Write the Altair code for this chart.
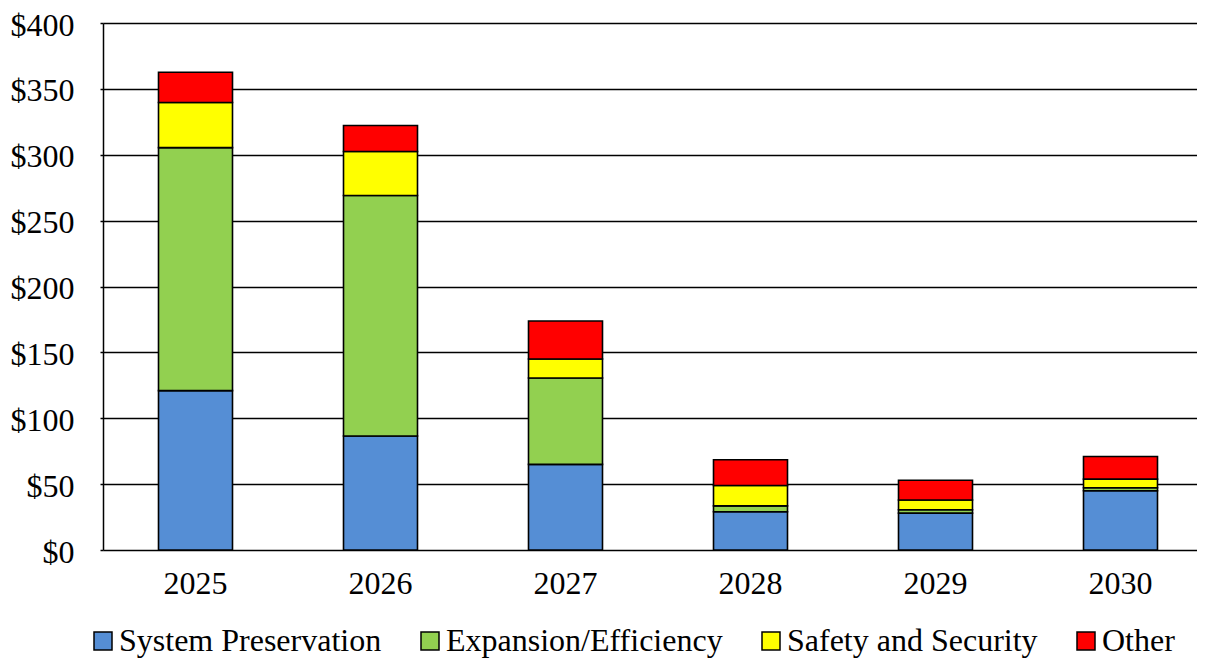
import altair as alt
import pandas as pd

years = ["2025", "2026", "2027", "2028", "2029", "2030"]
categories = ["System Preservation", "Expansion/Efficiency", "Safety and Security", "Other"]
colors = ["#558ED5", "#92D050", "#FFFF00", "#FF0000"]
system_preservation = [121, 86.5, 65, 29, 28, 45]
expansion_efficiency = [184.4, 182.6, 65.5, 4.5, 2.6, 2.2]
safety_security = [34.3, 33.4, 14.5, 15.5, 7.3, 6.6]
other = [22.9, 19.7, 28.8, 19.5, 15.0, 17.2]
y_ticks = [0, 50, 100, 150, 200, 250, 300, 350, 400]

series = [system_preservation, expansion_efficiency, safety_security, other]
rows = []
for ci, (cat, vals) in enumerate(zip(categories, series)):
    for y, v in zip(years, vals):
        rows.append({"year": y, "category": cat, "value": v, "idx": ci})
df = pd.DataFrame(rows)

font = "Liberation Serif"

chart = alt.Chart(df).mark_bar(stroke="black", strokeWidth=1.6).encode(
    x=alt.X("year:N", title=None, sort=years,
            scale=alt.Scale(paddingInner=0.6, paddingOuter=0.3, range=[0, 1110]),
            axis=alt.Axis(labelAngle=0, ticks=False, domain=False, labelPadding=18,
                          labelFontSize=32, labelFont=font, labelColor="black")),
    y=alt.Y("value:Q", title=None, stack="zero",
            scale=alt.Scale(domain=[0, 400], nice=False),
            axis=alt.Axis(values=y_ticks, labelExpr="'$' + datum.value",
                          grid=True, gridColor="#000000", gridWidth=1.5,
                          domain=True, domainColor="black", domainWidth=1.5,
                          ticks=True, tickSize=3, tickColor="black", tickWidth=1.5,
                          labelOffset=2,
                          labelPadding=26, labelFontSize=32, labelFont=font, labelColor="black")),
    color=alt.Color("category:N", sort=categories,
                    scale=alt.Scale(domain=categories, range=colors),
                    legend=alt.Legend(title=None, orient="none", direction="horizontal",
                                      legendX=-16, legendY=602,
                                      symbolType="square", symbolSize=324,
                                      symbolStrokeColor="black", symbolStrokeWidth=1.5,
                                      symbolOpacity=1,
                                      labelFontSize=32, labelFont=font, labelColor="black",
                                      labelOffset=0, columnPadding=32, labelLimit=400)),
    order=alt.Order("idx:Q", sort="ascending"),
).properties(
    width=1094, height=527,
    autosize=alt.AutoSizeParams(type="none"),
    padding={"left": 95, "top": 15, "right": 0, "bottom": 108},
).configure_view(stroke=None).configure_axis(gridOpacity=1)

chart.save("out.html", embed_options={"renderer": "svg", "actions": False})
